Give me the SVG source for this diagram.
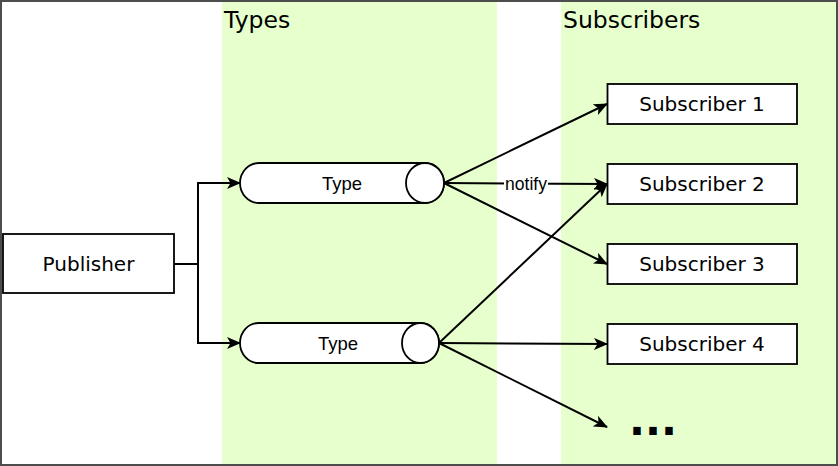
<svg xmlns="http://www.w3.org/2000/svg" width="838" height="466" viewBox="0 0 838 466">
<defs>
<style>
.lane{fill:#e6ffcc;stroke:none}
.title{font-family:"DejaVu Sans",Verdana,sans-serif;font-size:23.5px;fill:#000}
.box{fill:#fff;stroke:#000;stroke-width:1.8}
.btxt{font-family:"DejaVu Sans",Verdana,sans-serif;font-size:20px;fill:#000;text-anchor:middle}
.ctxt{font-family:"Liberation Sans",Arial,sans-serif;font-size:18.5px;fill:#000;text-anchor:middle}
.edge{fill:none;stroke:#000;stroke-width:2;marker-end:url(#arr)}
.plain{fill:none;stroke:#000;stroke-width:2}
</style>
<marker id="arr" viewBox="0 0 14 12" refX="13" refY="6" markerWidth="14" markerHeight="12" markerUnits="userSpaceOnUse" orient="auto">
<path d="M0,0 L14,6 L0,12 L3.5,6 Z" fill="#000"/>
</marker>
</defs>
<rect x="0" y="0" width="838" height="466" fill="#4d4d4d"/>
<rect x="2" y="2" width="834" height="462" fill="#fff"/>
<g id="lane-types">
<rect class="lane" x="222" y="2" width="275" height="462"/>
<text class="title" x="224" y="28">Types</text>
</g>
<g id="lane-subscribers">
<rect class="lane" x="561" y="2" width="275" height="462"/>
<text class="title" x="563" y="28">Subscribers</text>
</g>
<g id="connectors">
<path class="plain" d="M174,264 L198,264"/>
<path class="edge" d="M198,264 L198,183 L240,183"/>
<path class="edge" d="M198,264 L198,343 L240,343"/>
<path class="edge" d="M444,183 L607,104"/>
<path class="edge" d="M444,183 L607,184"/>
<path class="edge" d="M444,183 L607,264"/>
<path class="edge" d="M439,343 L607,184"/>
<path class="edge" d="M439,343 L607,344"/>
<path class="edge" d="M439,343 L607,427"/>
<rect x="504" y="174" width="44" height="20" fill="#fff"/>
<text class="ctxt" x="526" y="190" style="font-size:17.5px">notify</text>
</g>
<g id="publisher">
<rect class="box" x="3" y="234" width="171" height="59"/>
<text class="btxt" x="88.5" y="271">Publisher</text>
</g>
<g id="type1">
<path class="box" d="M259,163 L425,163 A19,20 0 0 1 425,203 L259,203 A19,20 0 0 1 259,163 Z"/>
<ellipse class="box" cx="425" cy="183" rx="19" ry="20"/>
<text class="ctxt" x="342" y="190">Type</text>
</g>
<g id="type2">
<path class="box" d="M258.5,323 L420.5,323 A18.5,20 0 0 1 420.5,363 L258.5,363 A18.5,20 0 0 1 258.5,323 Z"/>
<ellipse class="box" cx="420.5" cy="343" rx="18.5" ry="20"/>
<text class="ctxt" x="338" y="350">Type</text>
</g>
<g id="sub1">
<rect class="box" x="607.5" y="84" width="189.5" height="40"/>
<text class="btxt" x="702" y="111">Subscriber 1</text>
</g>
<g id="sub2">
<rect class="box" x="607.5" y="164" width="189.5" height="40"/>
<text class="btxt" x="702" y="191">Subscriber 2</text>
</g>
<g id="sub3">
<rect class="box" x="607.5" y="244" width="189.5" height="40"/>
<text class="btxt" x="702" y="271">Subscriber 3</text>
</g>
<g id="sub4">
<rect class="box" x="607.5" y="324" width="189.5" height="40"/>
<text class="btxt" x="702" y="351">Subscriber 4</text>
</g>
<g id="more">
<text x="653" y="435" style="font-family:'DejaVu Sans',Verdana,sans-serif;font-size:42px;font-weight:bold;text-anchor:middle">...</text>
</g>
</svg>
